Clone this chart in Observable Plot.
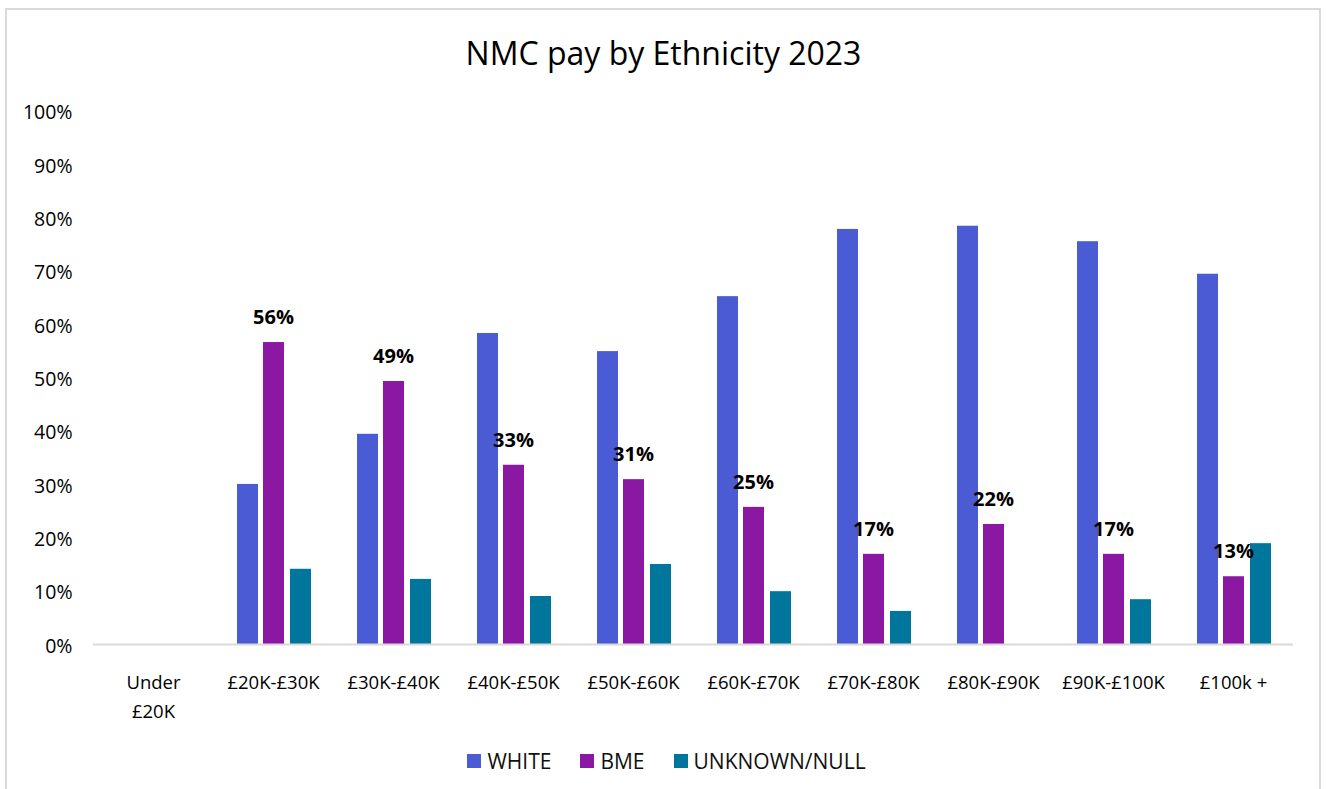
<!DOCTYPE html>
<html>
<head>
<meta charset="utf-8">
<script src="https://cdn.jsdelivr.net/npm/d3@7"></script>
<script src="https://cdn.jsdelivr.net/npm/@observablehq/plot@0.6"></script>
<style>
  html, body { margin: 0; padding: 0; background: #fff; }
  body { width: 1327px; height: 789px; overflow: hidden; position: relative; font-family: "Open Sans", sans-serif; }
  #frame { position: absolute; left: 5px; top: 8px; width: 1316px; height: 900px; border: 2px solid #d9d9d9; box-sizing: border-box; }
  #title { position: absolute; left: 0; width: 1327px; top: 31px; text-align: center; font-size: 32px; line-height: 44px; color: #000; }
  #chart { position: absolute; left: 0; top: 90px; }
  #legend { position: absolute; left: 3px; width: 1327px; top: 746px; display: flex; justify-content: center; gap: 29px; font-size: 21px; line-height: 30px; color: #111; }
  .item { display: flex; align-items: center; }
  .sw { width: 14px; height: 14px; margin-right: 6px; }
</style>
</head>
<body>
<div id="frame"></div>
<div id="title">NMC pay by Ethnicity 2023</div>
<div id="chart"></div>
<div id="legend"></div>
<script>
const categories = ["Under £20K", "£20K-£30K", "£30K-£40K", "£40K-£50K", "£50K-£60K", "£60K-£70K", "£70K-£80K", "£80K-£90K", "£90K-£100K", "£100k +"];
const series = ["WHITE", "BME", "UNKNOWN/NULL"];
const colors = ["#4a5bd4", "#8a18a2", "#00769c"];
const white = [0, 30.0, 39.4, 58.3, 54.9, 65.2, 77.8, 78.4, 75.5, 69.4];
const bme = [0, 56.6, 49.3, 33.6, 30.9, 25.7, 16.9, 22.5, 16.9, 12.7];
const unknown = [0, 14.1, 12.2, 9.0, 15.0, 9.9, 6.2, 0, 8.4, 18.9];
const bmeLabels = [null, "56%", "49%", "33%", "31%", "25%", "17%", "22%", "17%", "13%"];
const yTicks = [0, 10, 20, 30, 40, 50, 60, 70, 80, 90, 100];

const rows = categories.map((c, i) => ({category: c, white: white[i], bme: bme[i], unknown: unknown[i], label: bmeLabels[i]}));

const chart = Plot.plot({
  width: 1327,
  height: 640,
  marginLeft: 93,
  marginRight: 34,
  marginTop: 20.5,
  marginBottom: 86,
  style: {fontFamily: "Open Sans", background: "transparent", color: "#000"},
  x: {domain: categories, padding: 0, axis: null},
  y: {domain: [0, 100], axis: null},
  marks: [
    Plot.barY(rows, {x: "category", y: "white", fill: colors[0], insetLeft: 24, insetRight: 75}),
    Plot.barY(rows, {x: "category", y: "bme", fill: colors[1], insetLeft: 50, insetRight: 49}),
    Plot.barY(rows, {x: "category", y: "unknown", fill: colors[2], insetLeft: 77, insetRight: 22}),
    Plot.ruleY([0], {stroke: "#d9d9d9", strokeWidth: 2}),
    Plot.text(rows.filter(d => d.label), {x: "category", y: "bme", text: "label", dy: -25, fontSize: 20, fontWeight: "bold", fill: "#000"}),
    Plot.axisX({label: null, tickSize: 0, tickPadding: 25, fontSize: 18.5, lineHeight: 1.52, fill: "#000",
      tickFormat: d => d === "Under £20K" ? "Under\n£20K" : d}),
    Plot.axisY({label: null, ticks: yTicks, tickSize: 0, tickPadding: 21, dy: 2, fontSize: 19.5, fill: "#000", tickFormat: d => d + "%"})
  ]
});
document.getElementById("chart").appendChild(chart);

const legend = document.getElementById("legend");
series.forEach((s, i) => {
  const item = document.createElement("div");
  item.className = "item";
  const sw = document.createElement("span");
  sw.className = "sw";
  sw.style.background = colors[i];
  const t = document.createElement("span");
  t.textContent = s;
  item.appendChild(sw);
  item.appendChild(t);
  legend.appendChild(item);
});
</script>
</body>
</html>
